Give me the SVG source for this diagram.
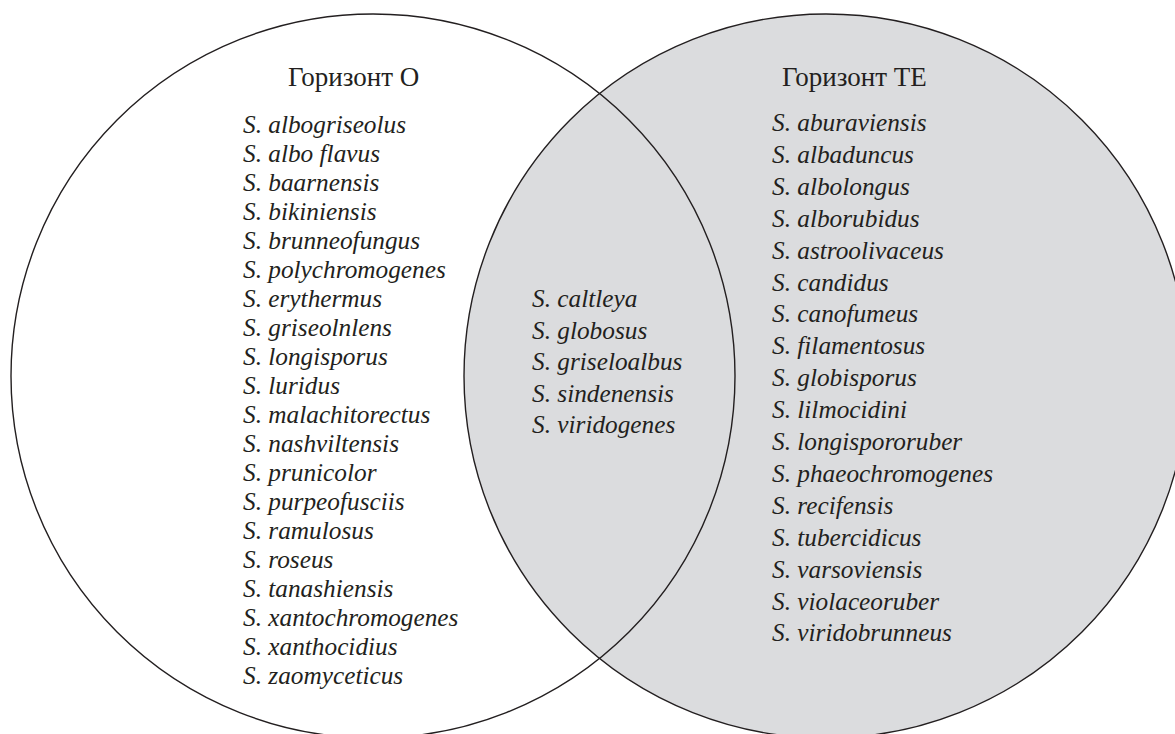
<svg xmlns="http://www.w3.org/2000/svg" width="1175" height="734" viewBox="0 0 1175 734">
<style>
.c{stroke:#231f20;stroke-width:1.4}
.h{font-family:"Liberation Serif","Times New Roman",serif;font-size:27px;fill:#231f20}
.s{font-family:"Liberation Serif","Times New Roman",serif;font-size:25.3px;font-style:italic;fill:#231f20}
</style>
<rect width="1175" height="734" fill="#ffffff"/>
<g id="horizon-te">
<circle class="c" cx="826" cy="376" r="362" fill="#dbdcde"/>
</g>
<g id="horizon-o">
<circle class="c" cx="373" cy="376" r="362" fill="none"/>
</g>
<g id="label-o">
<text class="h" x="288" y="86">Горизонт О</text>
<text class="s">
<tspan x="243" y="133">S. albogriseolus</tspan>
<tspan x="243" y="162">S. albo flavus</tspan>
<tspan x="243" y="191">S. baarnensis</tspan>
<tspan x="243" y="220">S. bikiniensis</tspan>
<tspan x="243" y="249">S. brunneofungus</tspan>
<tspan x="243" y="278">S. polychromogenes</tspan>
<tspan x="243" y="307">S. erythermus</tspan>
<tspan x="243" y="336">S. griseolnlens</tspan>
<tspan x="243" y="365">S. longisporus</tspan>
<tspan x="243" y="394">S. luridus</tspan>
<tspan x="243" y="423">S. malachitorectus</tspan>
<tspan x="243" y="452">S. nashviltensis</tspan>
<tspan x="243" y="481">S. prunicolor</tspan>
<tspan x="243" y="510">S. purpeofusciis</tspan>
<tspan x="243" y="539">S. ramulosus</tspan>
<tspan x="243" y="568">S. roseus</tspan>
<tspan x="243" y="597">S. tanashiensis</tspan>
<tspan x="243" y="626">S. xantochromogenes</tspan>
<tspan x="243" y="655">S. xanthocidius</tspan>
<tspan x="243" y="684">S. zaomyceticus</tspan>
</text>
</g>
<g id="label-both">
<text class="s">
<tspan x="532" y="307">S. caltleya</tspan>
<tspan x="532" y="338.5">S. globosus</tspan>
<tspan x="532" y="370">S. griseloalbus</tspan>
<tspan x="532" y="401.5">S. sindenensis</tspan>
<tspan x="532" y="433">S. viridogenes</tspan>
</text>
</g>
<g id="label-te">
<text class="h" x="782" y="86">Горизонт ТЕ</text>
<text class="s">
<tspan x="772" y="131">S. aburaviensis</tspan>
<tspan x="772" y="162.9">S. albaduncus</tspan>
<tspan x="772" y="194.8">S. albolongus</tspan>
<tspan x="772" y="226.7">S. alborubidus</tspan>
<tspan x="772" y="258.6">S. astroolivaceus</tspan>
<tspan x="772" y="290.5">S. candidus</tspan>
<tspan x="772" y="322.4">S. canofumeus</tspan>
<tspan x="772" y="354.3">S. filamentosus</tspan>
<tspan x="772" y="386.2">S. globisporus</tspan>
<tspan x="772" y="418.1">S. lilmocidini</tspan>
<tspan x="772" y="450">S. longispororuber</tspan>
<tspan x="772" y="481.9">S. phaeochromogenes</tspan>
<tspan x="772" y="513.8">S. recifensis</tspan>
<tspan x="772" y="545.7">S. tubercidicus</tspan>
<tspan x="772" y="577.6">S. varsoviensis</tspan>
<tspan x="772" y="609.5">S. violaceoruber</tspan>
<tspan x="772" y="641.4">S. viridobrunneus</tspan>
</text>
</g>
</svg>
